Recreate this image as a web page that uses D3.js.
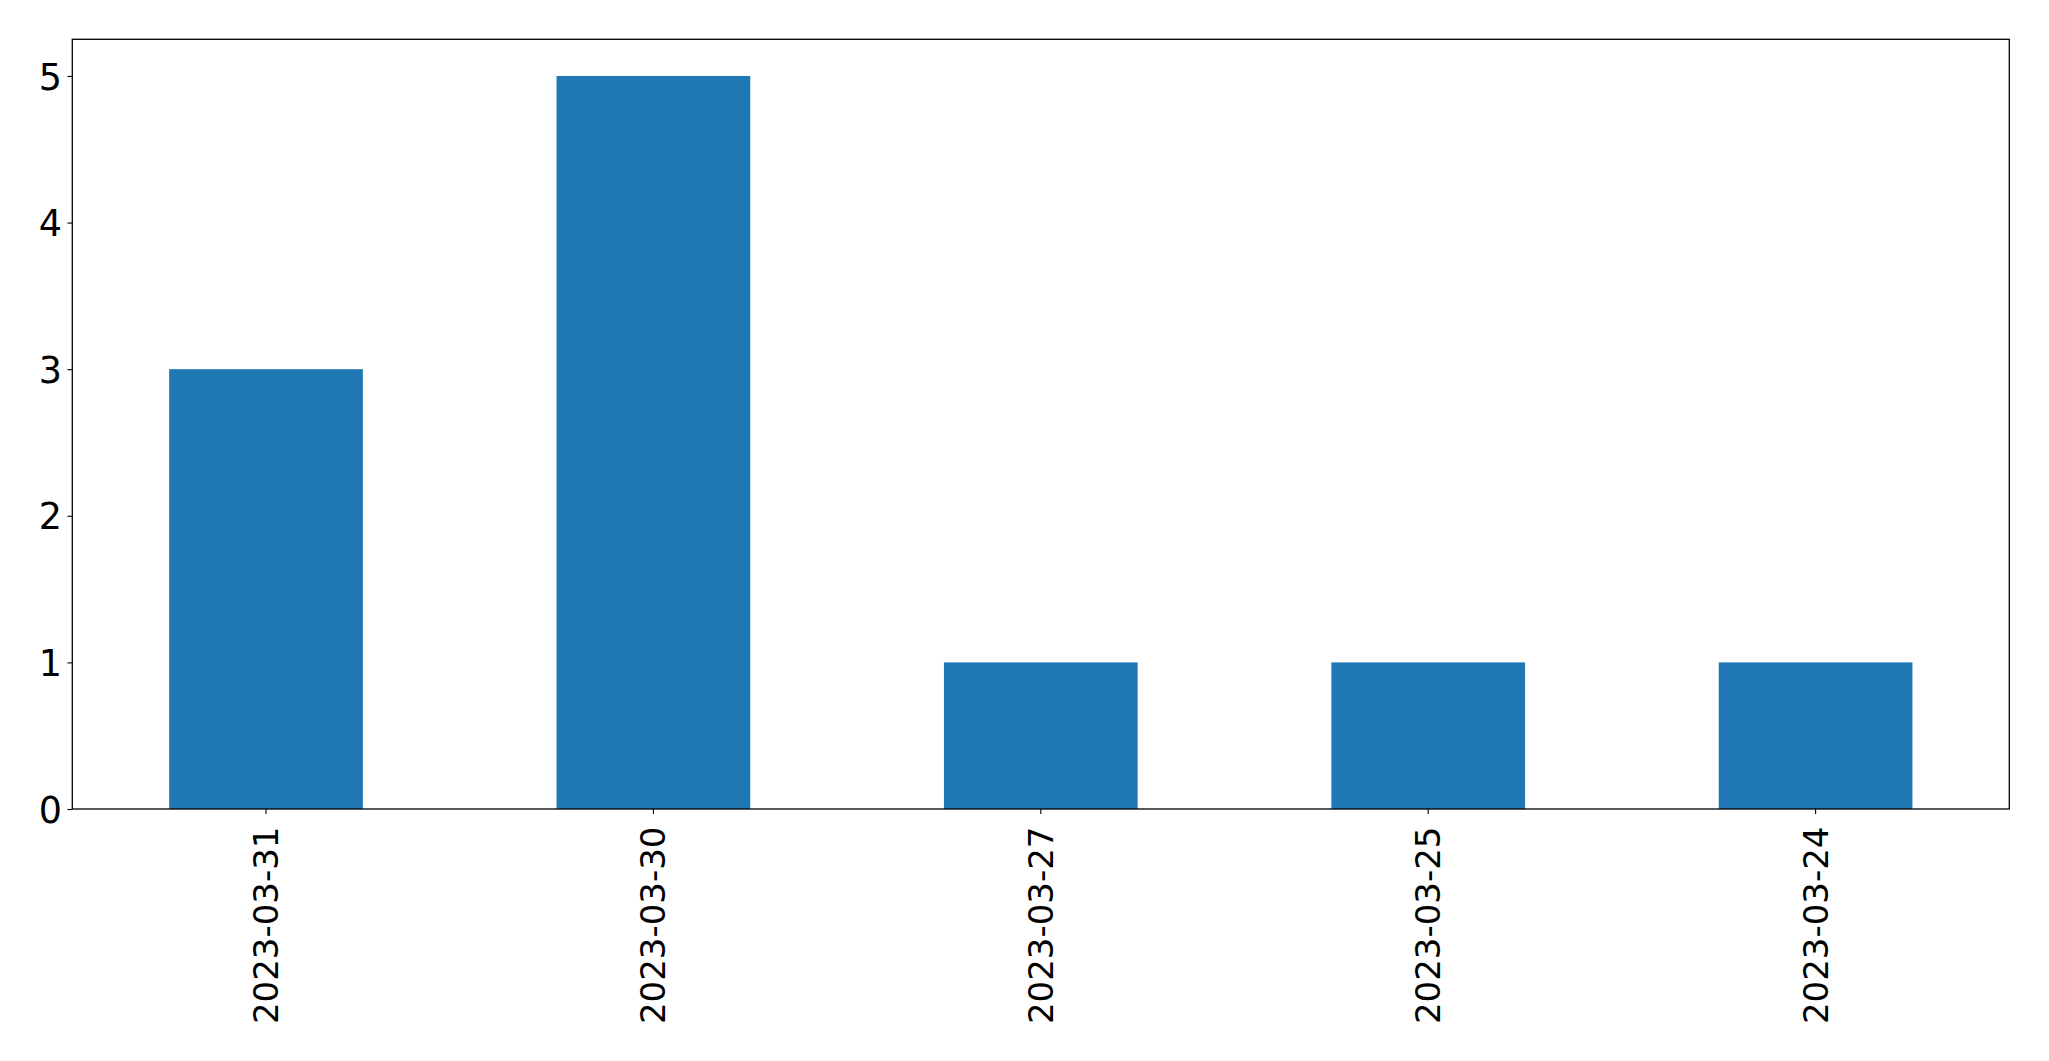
<!DOCTYPE html>
<html><head><meta charset="utf-8">
<script src="https://cdn.jsdelivr.net/npm/d3@7"></script>
<style>html,body{margin:0;padding:0;background:#fff;}</style>
</head><body>
<script>
const categories = ["2023-03-31","2023-03-30","2023-03-27","2023-03-25","2023-03-24"];
const values = [3,5,1,1,1];
const yTicks = [0,1,2,3,4,5];

const W = 2049, H = 1061;
const mLeft = 72.3, mRight = 2009.3, mTop = 39.3, mBottom = 809;
const svg = d3.select("body").append("svg").attr("width", W).attr("height", H);

const x = d3.scaleBand().domain(categories).range([mLeft, mRight]).paddingInner(0.5).paddingOuter(0.25);
const y = d3.scaleLinear().domain([0, 5.25]).range([mBottom, mTop]);

svg.selectAll("rect.bar").data(values).enter().append("rect")
  .attr("class","bar")
  .attr("x", (d,i) => x(categories[i]))
  .attr("width", x.bandwidth())
  .attr("y", d => y(d))
  .attr("height", d => y(0) - y(d))
  .attr("fill", "#1f77b4");

const font = "'DejaVu Sans', sans-serif";

const yAxis = svg.append("g").attr("transform", `translate(${mLeft},0)`)
  .call(d3.axisLeft(y).tickValues(yTicks).tickFormat(d3.format("d")).tickSize(4.9).tickPadding(5.5));
yAxis.select(".domain").remove();
yAxis.selectAll("line").attr("stroke","#000").attr("stroke-width",1.1);
yAxis.selectAll("text").attr("font-family", font).attr("font-size", 36.5).attr("fill","#000").attr("dy","0.36em");

const xAxis = svg.append("g").attr("transform", `translate(0,${mBottom})`)
  .call(d3.axisBottom(x).tickSize(4.9).tickPadding(6));
xAxis.select(".domain").remove();
xAxis.selectAll("line").attr("stroke","#000").attr("stroke-width",1.1);
xAxis.selectAll("text")
  .attr("font-family", font).attr("font-size", 34).attr("fill","#000")
  .attr("transform", "rotate(-90)")
  .attr("text-anchor","end")
  .attr("dy","0.35em")
  .attr("x", -17.5)
  .attr("y", 0);

svg.append("rect").attr("x", mLeft).attr("y", mTop).attr("width", mRight-mLeft).attr("height", mBottom-mTop)
  .attr("fill","none").attr("stroke","#000").attr("stroke-width",1.3);
</script>
</body></html>
